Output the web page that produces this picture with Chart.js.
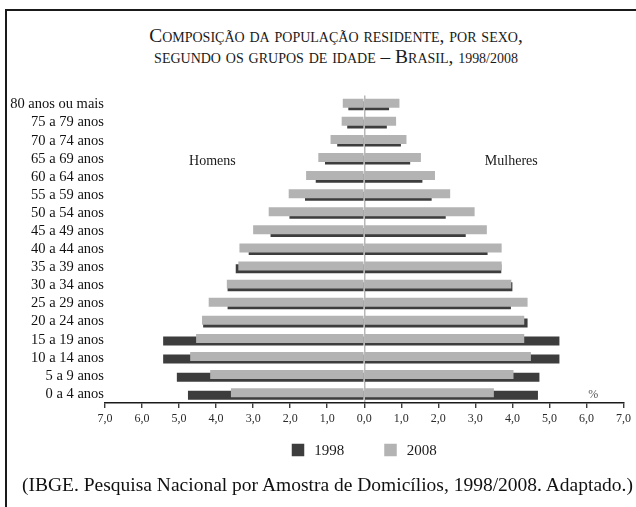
<!DOCTYPE html>
<html lang="pt-BR">
<head>
<meta charset="utf-8">
<title>Composição da população residente</title>
<script src="https://cdn.jsdelivr.net/npm/chart.js@4.4.1/dist/chart.umd.min.js"></script>
<style>
    html, body { margin: 0; padding: 0; background: #fff; overflow: hidden; }
    #wrap { position: relative; width: 636px; height: 507px; }
    #frame { position: absolute; left: 5px; top: 9px; width: 640px; height: 510px;
             border-left: 2.5px solid #1a1a1a; border-top: 2.5px solid #1a1a1a; }
    #titulo { position: absolute; left: 18px; top: 25px; width: 636px; text-align: center;
              font-family: "Liberation Serif", serif; font-variant: small-caps;
              font-size: 19.4px; line-height: 21px; color: #1a1a1a; }
    #titulo .ano { font-size: 0.72em; }
    #fonte { position: absolute; left: 22px; top: 474px; white-space: nowrap;
             font-family: "Liberation Serif", serif; font-size: 19.5px; color: #111; }
    canvas { position: absolute; left: 0; top: 0; }
</style>
</head>
<body>
<div id="wrap">
    <div id="frame"></div>
    <div id="titulo">Composição da população residente, por sexo,<br>segundo os grupos de idade – Brasil, <span class="ano">1998/2008</span></div>
    <canvas id="piramide" width="636" height="507"></canvas>
    <div id="fonte">(IBGE. Pesquisa Nacional por Amostra de Domicílios, 1998/2008. Adaptado.)</div>
</div>
<script>
// faixas etárias, de cima para baixo
const faixas = ['80 anos ou mais', '75 a 79 anos', '70 a 74 anos', '65 a 69 anos', '60 a 64 anos',
    '55 a 59 anos', '50 a 54 anos', '45 a 49 anos', '40 a 44 anos', '35 a 39 anos', '30 a 34 anos',
    '25 a 29 anos', '20 a 24 anos', '15 a 19 anos', '10 a 14 anos', '5 a 9 anos', '0 a 4 anos'];

// % da população
const homens1998 = [0.43, 0.46, 0.73, 1.06, 1.31, 1.60, 2.02, 2.53, 3.12, 3.47, 3.69, 3.69, 4.35, 5.43, 5.43, 5.06, 4.76];
const homens2008 = [0.58, 0.61, 0.91, 1.24, 1.57, 2.04, 2.58, 3.00, 3.37, 3.40, 3.71, 4.20, 4.38, 4.54, 4.70, 4.16, 3.60];
const mulheres1998 = [0.67, 0.61, 0.99, 1.24, 1.57, 1.82, 2.20, 2.74, 3.33, 3.70, 4.00, 3.96, 4.41, 5.27, 5.27, 4.73, 4.69];
const mulheres2008 = [0.95, 0.86, 1.14, 1.53, 1.91, 2.32, 2.98, 3.31, 3.71, 3.71, 3.97, 4.41, 4.32, 4.32, 4.50, 4.03, 3.50];

const anos = ['1998', '2008'];
const cores = { '1998': '#3d3d3d', '2008': '#b3b3b3' };

const serif = 'Liberation Serif, Times New Roman, serif';

function barra(label, dados, ano) {
    return {
        label: label,
        data: dados,
        stack: ano,
        backgroundColor: cores[ano],
        borderWidth: 0,
        categoryPercentage: 0.287,
        barPercentage: 3.46
    };
}

// textos "Homens", "Mulheres", "%" e a legenda
const textos = {
    id: 'textos',
    afterDraw(chart) {
        const { ctx, scales: { x, y } } = chart;
        ctx.save();
        ctx.fillStyle = '#1a1a1a';
        ctx.font = '14px ' + serif;
        ctx.textAlign = 'center';
        ctx.textBaseline = 'middle';
        const yLado = y.getPixelForValue(3) + 3;
        ctx.fillText('Homens', x.getPixelForValue(-4.1), yLado);
        ctx.fillText('Mulheres', x.getPixelForValue(3.97), yLado);

        ctx.fillStyle = '#555';
        ctx.font = '12px ' + serif;
        ctx.fillText('%', x.getPixelForValue(6.18), y.bottom - 8);

        // legenda
        ctx.font = '15px ' + serif;
        ctx.textAlign = 'left';
        const box = 12.5, gapTexto = 10, gapItem = 40;
        const larguras = anos.map(a => ctx.measureText(a).width);
        const total = anos.length * (box + gapTexto) + larguras[0] + larguras[1] + gapItem;
        let cx = x.getPixelForValue(0) - total / 2;
        const cy = 450;
        anos.forEach((a, i) => {
            ctx.fillStyle = cores[a];
            ctx.fillRect(cx, cy - box / 2, box, box);
            ctx.fillStyle = '#1a1a1a';
            ctx.fillText(a, cx + box + gapTexto, cy + 1);
            cx += box + gapTexto + larguras[i] + gapItem;
        });
        ctx.restore();
    }
};

new Chart(document.getElementById('piramide'), {
    type: 'bar',
    data: {
        labels: faixas,
        datasets: [
            barra('Homens 2008', homens2008.map(v => -v), '2008'),
            barra('Mulheres 2008', mulheres2008, '2008'),
            barra('Homens 1998', homens1998.map(v => -v), '1998'),
            barra('Mulheres 1998', mulheres1998, '1998')
        ]
    },
    options: {
        indexAxis: 'y',
        responsive: false,
        animation: false,
        layout: { padding: { left: 0, right: 12.5, top: 95.5, bottom: 64 } },
        scales: {
            x: {
                min: -7,
                max: 7,
                stacked: false,
                afterFit: (s) => { s.height = 40; },
                ticks: {
                    stepSize: 1,
                    padding: 4,
                    maxRotation: 0,
                    autoSkip: false,
                    color: '#2a2a2a',
                    font: { family: serif, size: 12 },
                    callback: (v) => Math.abs(v).toFixed(1).replace('.', ',')
                },
                grid: {
                    color: (c) => c.tick && c.tick.value === 0 ? '#b8b8b8' : 'rgba(0,0,0,0)',
                    lineWidth: 1.5,
                    tickColor: '#1a1a1a',
                    tickLength: 5,
                    tickWidth: 1.2
                },
                border: { display: true, color: '#1a1a1a', width: 1.5 }
            },
            y: {
                afterFit: (s) => { s.width = 105; },
                grid: { display: false, drawTicks: false },
                border: { display: false },
                ticks: {
                    padding: 1,
                    autoSkip: false,
                    color: '#111',
                    font: { family: serif, size: 14.5 }
                }
            }
        },
        plugins: {
            legend: { display: false },
            tooltip: { enabled: false },
            title: { display: false }
        }
    },
    plugins: [textos]
});
</script>
</body>
</html>
